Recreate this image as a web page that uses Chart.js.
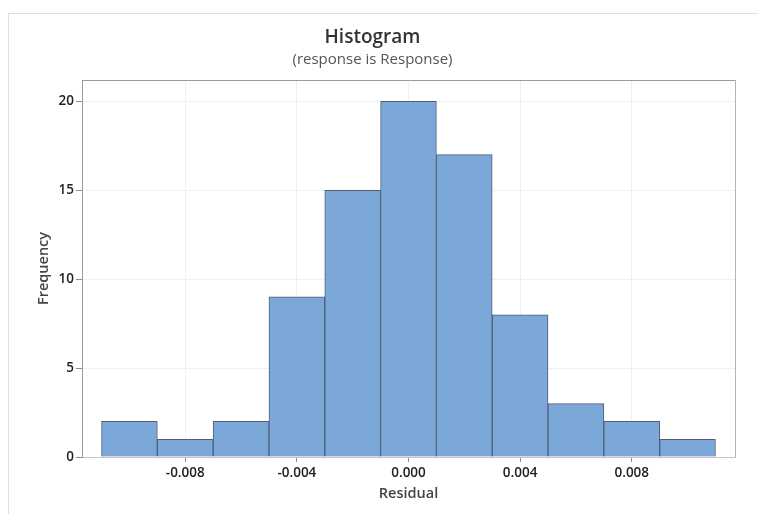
<!DOCTYPE html>
<html lang="en">
<head>
    <meta charset="UTF-8">
    <title>Histogram</title>
    <script src="https://cdn.jsdelivr.net/npm/chart.js"></script>
    <style>
        * {
            margin: 0;
            padding: 0;
            box-sizing: border-box;
        }
        body {
            background-color: #fff;
            width: 758px;
            height: 514px;
            overflow: hidden;
            position: relative;
        }
        .frame {
            position: absolute;
            left: 8px;
            top: 13px;
            right: 0;
            bottom: 0;
            border-left: 1px solid #dedede;
            border-top: 1px solid #dedede;
        }
        .chart-box {
            position: absolute;
            left: 10px;
            top: 0;
            width: 758px;
            height: 514px;
        }
    </style>
</head>
<body>
    <div class="frame"></div>
    <div class="chart-box">
        <canvas id="histogram" width="758" height="514"></canvas>
    </div>
    <script>
        // bin midpoints (width 0.002) and counts
        var binCenters = [-0.010, -0.008, -0.006, -0.004, -0.002, 0.000, 0.002, 0.004, 0.006, 0.008, 0.010];
        var frequencies = [2, 1, 2, 9, 15, 20, 17, 8, 3, 2, 1];
        var xTicks = [-0.008, -0.004, 0.000, 0.004, 0.008];
        var yTicks = [0, 5, 10, 15, 20];

        var font = "'Open Sans', 'Noto Sans', sans-serif";

        // closes the plot box on the top and right sides
        var plotFrame = {
            id: 'plotFrame',
            afterDraw: function (chart) {
                var a = chart.chartArea;
                var ctx = chart.ctx;
                ctx.save();
                ctx.lineWidth = 1;
                ctx.strokeStyle = '#9a9a9a';
                ctx.beginPath();
                ctx.moveTo(a.left, a.top + 0.5);
                ctx.lineTo(a.right + 0.5, a.top + 0.5);
                ctx.stroke();
                ctx.strokeStyle = '#b4b4b4';
                ctx.beginPath();
                ctx.moveTo(a.right + 0.5, a.top);
                ctx.lineTo(a.right + 0.5, a.bottom);
                ctx.stroke();
                ctx.restore();
            }
        };

        var ctx = document.getElementById('histogram').getContext('2d');
        var histogramChart = new Chart(ctx, {
            type: 'bar',
            data: {
                datasets: [{
                    label: 'Frequency',
                    data: binCenters.map(function (x, i) { return { x: x, y: frequencies[i] }; }),
                    backgroundColor: '#7ba7d9',
                    borderColor: '#4f5f78',
                    borderWidth: 1,
                    borderSkipped: 'start',
                    barPercentage: 1,
                    categoryPercentage: 1
                }]
            },
            options: {
                responsive: false,
                animation: false,
                layout: {
                    padding: { left: 0, right: 33, top: 0, bottom: 0 }
                },
                plugins: {
                    legend: { display: false },
                    tooltip: { enabled: false },
                    title: {
                        display: true,
                        text: 'Histogram',
                        color: '#333',
                        font: { family: font, size: 19, weight: '600' },
                        padding: { top: 26, bottom: 2 }
                    },
                    subtitle: {
                        display: true,
                        text: '(response is Response)',
                        color: '#555',
                        font: { family: font, size: 15, weight: '400' },
                        padding: { top: 0, bottom: 11.2 }
                    }
                },
                scales: {
                    x: {
                        type: 'linear',
                        offset: false,
                        min: -0.0117,
                        max: 0.0117,
                        afterBuildTicks: function (scale) {
                            scale.ticks = xTicks.map(function (v) { return { value: v }; });
                        },
                        afterFit: function (scale) { scale.height = 57; },
                        ticks: {
                            color: '#222',
                            font: { family: font, size: 13.5, weight: '600' },
                            padding: 3,
                            maxRotation: 0,
                            callback: function (v) { return v.toFixed(3); }
                        },
                        grid: {
                            color: '#f0f0f0',
                            tickColor: '#8c8c8c',
                            tickLength: 5,
                            offset: false
                        },
                        border: { color: '#c4c4c4', width: 1 },
                        title: {
                            display: true,
                            text: 'Residual',
                            color: '#444',
                            font: { family: font, size: 14.5, weight: '600' },
                            padding: { top: 0, bottom: 11.3 }
                        }
                    },
                    y: {
                        min: 0,
                        max: 21.2,
                        afterBuildTicks: function (scale) {
                            scale.ticks = yTicks.map(function (v) { return { value: v }; });
                        },
                        afterFit: function (scale) { scale.width = 72; },
                        ticks: {
                            color: '#222',
                            font: { family: font, size: 13.5, weight: '600' },
                            padding: 2
                        },
                        grid: {
                            color: '#f0f0f0',
                            tickColor: '#8c8c8c',
                            tickLength: 6
                        },
                        border: { color: '#9a9a9a', width: 1 },
                        title: {
                            display: true,
                            text: 'Frequency',
                            color: '#444',
                            font: { family: font, size: 14.5, weight: '600' },
                            padding: { top: 25.3, bottom: 0 }
                        }
                    }
                }
            },
            plugins: [plotFrame]
        });
    </script>
</body>
</html>
